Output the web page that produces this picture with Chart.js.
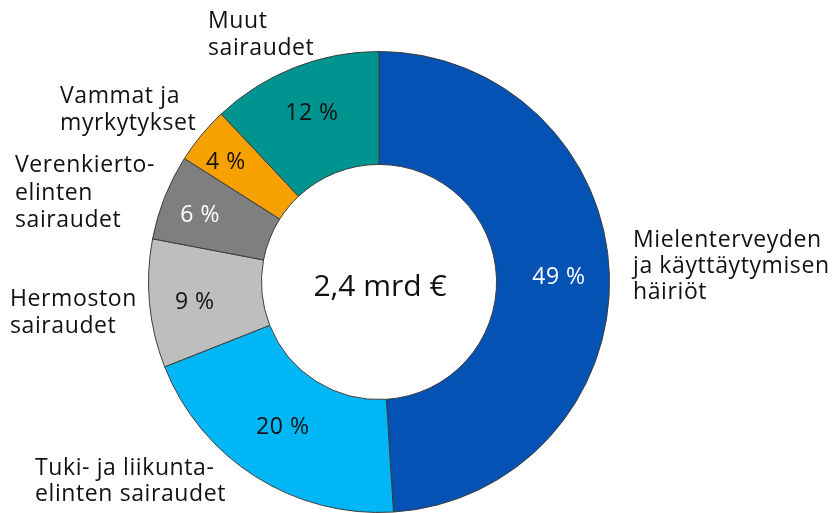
<!DOCTYPE html>
<html><head><meta charset="utf-8">
<script src="https://cdn.jsdelivr.net/npm/chart.js@4/dist/chart.umd.min.js"></script>
<style>html,body{margin:0;padding:0;background:#fff;}#wrap{width:835px;height:513px;}</style>
</head><body><div id="wrap"><canvas id="c" width="835" height="513"></canvas></div>
<script>
const categories = [
  ["Mielenterveyden","ja käyttäytymisen","häiriöt"],
  ["Tuki- ja liikunta-","elinten sairaudet"],
  ["Hermoston","sairaudet"],
  ["Verenkierto-","elinten","sairaudet"],
  ["Vammat ja","myrkytykset"],
  ["Muut","sairaudet"]
];
const shares = [49, 20, 9, 6, 4, 12];
const valueLabels = ["49 %","20 %","9 %","6 %","4 %","12 %"];
const centerLabel = "2,4 mrd €";
const colors = ["#0453b4","#00b6f4","#bebebe","#7f7f7f","#f6a100","#009490"];
const valueColors = ["#ffffff","#111111","#111111","#ffffff","#111111","#111111"];

const FONT = "'Open Sans', sans-serif";
// first-line baseline of each category label, relative to chart center
const catPos = [
  {x: 254, y: -35}, {x: -344, y: 193}, {x: -369, y: 24},
  {x: -364, y: -110}, {x: -319, y: -179}, {x: -171, y: -254}
];
const lineGap = [26, 25.5, 27, 27.5, 27, 27];
// offsets of value labels from arc centroid
const valOff = [
  {x: 6, y: 1}, {x: -3, y: -1}, {x: -11, y: 4},
  {x: -17, y: -2}, {x: -19, y: -9}, {x: -3, y: -7}
];

const labelPlugin = {
  id: 'labels',
  afterDatasetsDraw(chart) {
    const ctx = chart.ctx;
    const meta = chart.getDatasetMeta(0);
    const arc0 = meta.data[0];
    const cx = arc0.x, cy = arc0.y;
    ctx.save();
    ctx.textBaseline = 'middle';
    ctx.textAlign = 'center';
    ctx.font = "23px " + FONT;
    ctx.letterSpacing = '0.5px';
    meta.data.forEach((arc, i) => {
      const p = arc.getCenterPoint();
      ctx.fillStyle = valueColors[i];
      ctx.fillText(valueLabels[i], p.x + valOff[i].x, p.y + valOff[i].y);
    });
    ctx.font = "30px " + FONT;
    ctx.letterSpacing = '0px';
    ctx.fillStyle = '#111';
    ctx.fillText(centerLabel, cx + 1, cy + 5);
    ctx.textAlign = 'left';
    ctx.textBaseline = 'alphabetic';
    ctx.font = "23px " + FONT;
    ctx.letterSpacing = '0.6px';
    categories.forEach((lines, i) => {
      lines.forEach((t, j) => {
        ctx.fillText(t, cx + catPos[i].x, cy + catPos[i].y + j * lineGap[i]);
      });
    });
    ctx.restore();
  }
};

new Chart(document.getElementById('c'), {
  type: 'doughnut',
  data: {
    labels: categories.map(l => l.join(' ')),
    datasets: [{
      data: shares,
      backgroundColor: colors,
      borderColor: '#3c3c3c',
      borderWidth: 1,
      borderAlign: 'center'
    }]
  },
  options: {
    responsive: false,
    animation: false,
    cutout: '51%',
    rotation: 0,
    layout: {padding: {left: 148, right: 225, top: 51, bottom: 0}},
    plugins: {legend: {display: false}, tooltip: {enabled: false}}
  },
  plugins: [labelPlugin]
});
</script></body></html>
